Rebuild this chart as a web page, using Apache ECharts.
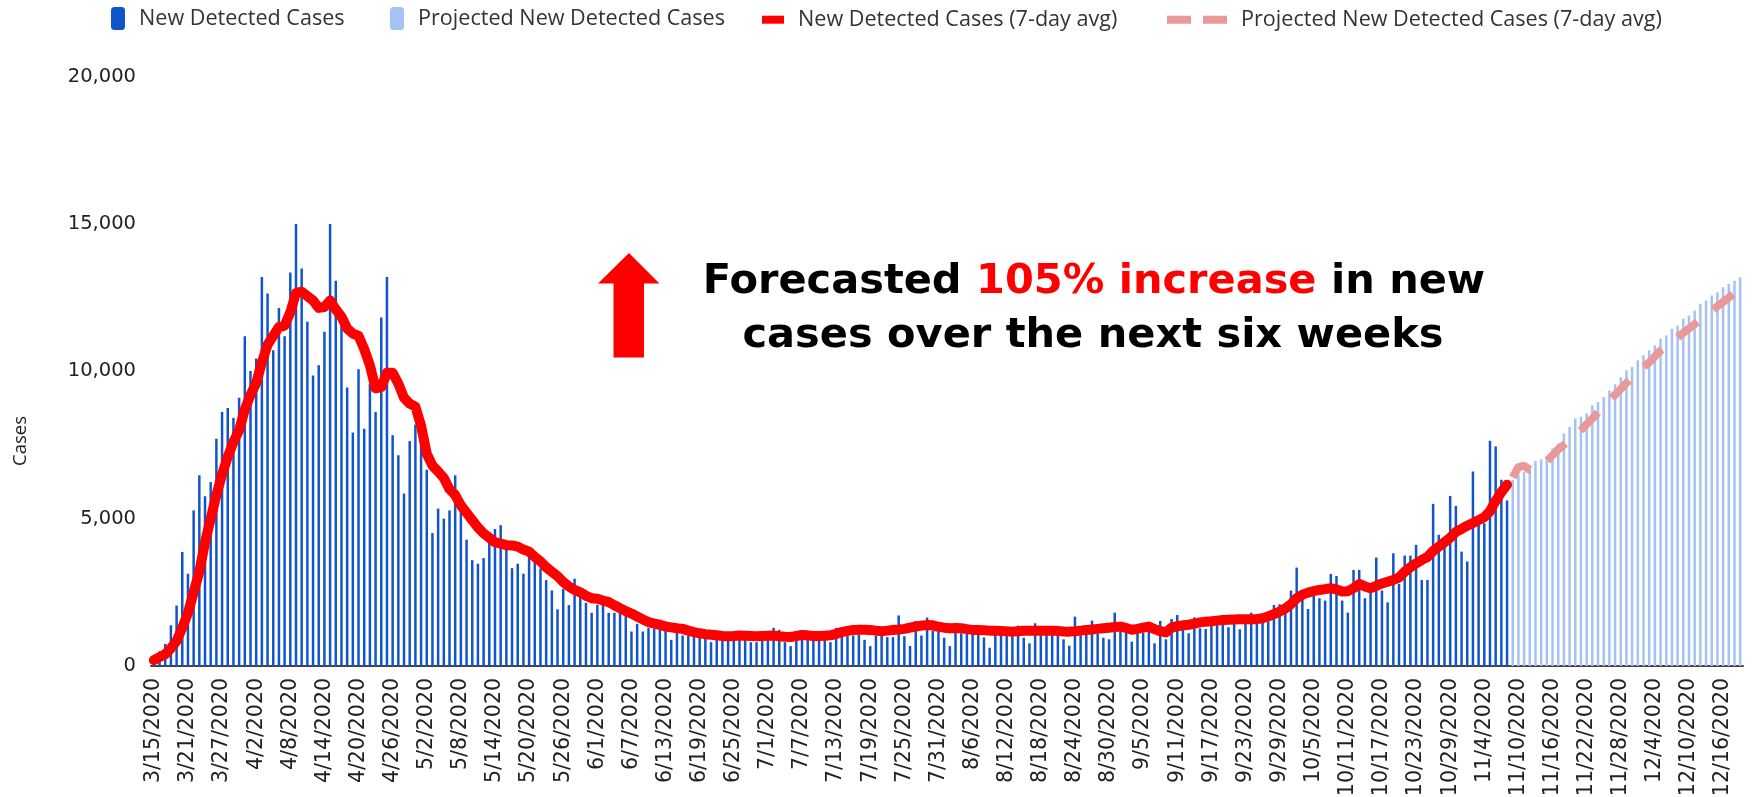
<!DOCTYPE html>
<html>
<head>
<meta charset="utf-8">
<script src="https://cdn.jsdelivr.net/npm/echarts@6/dist/echarts.min.js"></script>
<style>
  html, body { margin: 0; padding: 0; background: #fff; }
  #chart { width: 1752px; height: 797px; }
</style>
</head>
<body>
<div id="chart"></div>
<script>
// Daily new detected cases, 3/15/2020 .. 11/8/2020
const detectedCases = [
    200, 500, 750, 1380, 2050, 3870, 3130, 5280, 6470, 5760,
    6240, 7710, 8620, 8750, 8420, 9100, 11190, 10010, 10430, 13200,
    12640, 10710, 12150, 11190, 13350, 15000, 13490, 11680, 9860, 10200,
    11340, 15000, 13070, 11680, 9450, 7920, 10070, 8050, 9580, 8620,
    11820, 13200, 7830, 7150, 5850, 7630, 8190, 7660, 6660, 4510,
    5340, 5000, 5280, 6470, 5480, 4285, 3590, 3470, 3660, 4285,
    4645, 4780, 4120, 3320, 3470, 3130, 3720, 3600, 3310, 2915,
    2564, 1925, 2620, 2065, 2960, 2394, 2145, 1805, 2077, 2168,
    1805, 1805, 1885, 1715, 1171, 1432, 1171, 1296, 1262, 1262,
    1183, 888, 1149, 1036, 1036, 1002, 979, 956, 809, 922,
    888, 922, 979, 900, 922, 809, 809, 888, 922, 1296,
    1228, 809, 673, 922, 922, 922, 866, 900, 888, 809,
    1296, 1296, 1262, 1036, 1070, 888, 673, 1036, 1296, 979,
    979, 1715, 1010, 680, 1525, 1036, 1645, 1200, 1175, 960,
    675, 1450, 1110, 1110, 1140, 1090, 970, 620, 1050, 1050,
    1050, 1280, 1370, 960, 770, 1450, 1110, 1165, 1140, 1050,
    905, 690, 1675, 1050, 1110, 1540, 1090, 960, 905, 1810,
    1280, 1200, 825, 1165, 1130, 1165, 770, 1530, 905, 1595,
    1730, 1280, 1110, 1650, 1280, 1255, 1650, 1650, 1560, 1315,
    1585, 1245, 1540, 1810, 1585, 1560, 1505, 2070, 2095, 2015,
    2560, 3340, 2240, 1935, 2640, 2300, 2220, 3125, 3055, 2220,
    1810, 3260, 3260, 2300, 2580, 3680, 2560, 2160, 3825, 2785,
    3745, 3745, 4110, 2920, 2920, 5500, 4450, 4370, 5770, 5430,
    3880, 3545, 6600, 4790, 4845, 7640, 7450, 6320, 5620
];

// 7-day average of the detected cases, same days
const detectedAvg = [
    200, 300, 400, 600, 850, 1300, 1800, 2500, 3200, 4200,
    5000, 5800, 6500, 7100, 7600, 8000, 8700, 9200, 9600, 10300,
    10900, 11200, 11500, 11550, 12000, 12650, 12700, 12550, 12400, 12150,
    12180, 12400, 12100, 11850, 11450, 11280, 11200, 10750, 10200, 9420,
    9460, 9950, 9950, 9580, 9100, 8900, 8800, 8150, 7200, 6800,
    6600, 6380, 6000, 5800, 5450, 5200, 4950, 4700, 4500, 4350,
    4200, 4150, 4100, 4090, 4050, 3950, 3880, 3700, 3550, 3350,
    3200, 3050, 2850, 2700, 2580, 2500, 2380, 2300, 2280, 2220,
    2170, 2060, 1960, 1860, 1780, 1680, 1580, 1490, 1440, 1400,
    1340, 1310, 1280, 1260, 1200, 1150, 1110, 1080, 1060, 1040,
    1020, 1010, 1020, 1035, 1030, 1020, 1010, 1020, 1030, 1035,
    1010, 990, 980, 1020, 1050, 1040, 1015, 1020, 1030, 1040,
    1090, 1150, 1190, 1225, 1230, 1230, 1225, 1200, 1180, 1200,
    1225, 1240, 1260, 1300, 1340, 1370, 1390, 1380, 1330, 1300,
    1280, 1290, 1280, 1250, 1225, 1220, 1210, 1200, 1200, 1190,
    1175, 1166, 1180, 1195, 1200, 1200, 1200, 1200, 1200, 1185,
    1170, 1166, 1180, 1200, 1220, 1240, 1260, 1280, 1300, 1320,
    1336, 1290, 1230, 1260, 1300, 1336, 1250, 1180, 1140, 1300,
    1350, 1380, 1400, 1440, 1480, 1505, 1520, 1540, 1560, 1570,
    1580, 1585, 1585, 1585, 1590, 1620, 1680, 1760, 1850, 1950,
    2100, 2300, 2420, 2490, 2540, 2580, 2610, 2637, 2600, 2530,
    2540, 2640, 2784, 2700, 2637, 2720, 2800, 2860, 2920, 3000,
    3200, 3350, 3480, 3600, 3700, 3900, 4050, 4200, 4350, 4550,
    4650, 4760, 4850, 4950, 5050, 5250, 5600, 5900, 6150
];

// Projection, 11/9/2020 .. 12/19/2020
const projectedCases = [
    6310, 6480, 6590, 6820, 6960, 7010, 7100, 7380, 7550, 7890,
    8110, 8400, 8450, 8570, 8850, 8960, 9130, 9350, 9560, 9800,
    10030, 10140, 10370, 10540, 10710, 10880, 11100, 11210, 11440, 11550,
    11780, 11890, 12060, 12290, 12400, 12570, 12680, 12850, 12960, 13070,
    13190
];

// Projected 7-day average, 11/9/2020 .. 12/18/2020
const projectedAvg = [
    6400, 6750, 6800, 6650, 6700, 6850, 6950, 7150, 7350, 7500,
    7650, 7800, 8000, 8200, 8400, 8600, 8800, 9000, 9200, 9400,
    9600, 9800, 10000, 10150, 10300, 10500, 10700, 10850, 11000, 11150,
    11300, 11450, 11600, 11750, 11900, 12050, 12200, 12350, 12500, 12650
];

const firstDay = [2020, 3, 15];   // year, month, day of the first bar
const yMax = 20000;
const yStep = 5000;
const labelEvery = 6;             // one date label every 6 days

const seriesNames = [
    'New Detected Cases',
    'Projected New Detected Cases',
    'New Detected Cases (7-day avg)',
    'Projected New Detected Cases (7-day avg)'
];

// Build the day labels and pad each series onto the full day range
const dayCount = detectedCases.length + projectedCases.length;
const categories = [];
const start = Date.UTC(firstDay[0], firstDay[1] - 1, firstDay[2]);
for (let i = 0; i < dayCount; i++) {
    const d = new Date(start + i * 86400000);
    categories.push((d.getUTCMonth() + 1) + '/' + d.getUTCDate() + '/' + d.getUTCFullYear());
}
const blank = n => new Array(n).fill(null);
const actualBars = detectedCases.concat(blank(projectedCases.length));
const projBars = blank(detectedCases.length).concat(projectedCases);
const actualLine = detectedAvg.concat(blank(dayCount - detectedAvg.length));
const projLine = blank(detectedCases.length).concat(projectedAvg);

const legendText = {
    fontFamily: 'Open Sans',
    fontSize: 21.6,
    color: '#333',
    padding: [0, 0, 0, 9]
};

// rich text styles for the annotation
const bigFont = { fontFamily: 'DejaVu Sans', fontWeight: 'bold', fontSize: 41.5 };

const chart = echarts.init(document.getElementById('chart'));

chart.setOption({
    animation: false,
    textStyle: { fontFamily: 'DejaVu Sans' },
    legend: [
        {
            data: [seriesNames[0]], left: 106, top: 2,
            icon: 'roundRect', itemWidth: 14, itemHeight: 23,
            textStyle: legendText
        },
        {
            data: [seriesNames[1]], left: 385, top: 2,
            icon: 'roundRect', itemWidth: 14, itemHeight: 23,
            textStyle: legendText
        },
        {
            data: [seriesNames[2]], left: 757, top: 3.7,
            icon: 'rect', itemWidth: 22, itemHeight: 8,
            textStyle: legendText
        },
        {
            data: [seriesNames[3]], left: 1162, top: 3.7,
            icon: 'path://M0,0H24V8H0Z M36,0H60V8H36Z', itemWidth: 60, itemHeight: 8,
            textStyle: legendText
        }
    ],
    grid: {
        left: 151,
        right: 9,
        top: 76.5,
        bottom: 131,
        outerBoundsMode: 'none'
    },
    xAxis: {
        type: 'category',
        data: categories,
        boundaryGap: true,
        axisTick: { show: false },
        axisLine: { lineStyle: { color: '#444', width: 2 } },
        axisLabel: {
            rotate: 90,
            interval: labelEvery - 1,
            margin: 12,
            fontFamily: 'DejaVu Sans',
            fontSize: 20.5,
            color: '#222'
        }
    },
    yAxis: {
        type: 'value',
        min: 0,
        max: yMax,
        interval: yStep,
        axisLine: { show: false },
        axisTick: { show: false },
        splitLine: { show: false },
        axisLabel: {
            margin: 15,
            fontFamily: 'DejaVu Sans',
            fontSize: 19.5,
            color: '#222',
            formatter: v => v.toLocaleString('en-US')
        }
    },
    graphic: [
        {
            type: 'text',
            x: 21, y: 441,
            rotation: Math.PI / 2,
            style: {
                text: 'Cases',
                fontFamily: 'Open Sans',
                fontSize: 18.5,
                fill: '#222',
                align: 'center',
                verticalAlign: 'middle'
            }
        },
        {
            // red up arrow
            type: 'polygon',
            shape: {
                points: [
                    [629, 253], [659.5, 283.5], [644, 283.5], [644, 357.5],
                    [613.5, 357.5], [613.5, 283.5], [598, 283.5]
                ]
            },
            style: { fill: '#ff0000' }
        },
        {
            type: 'text',
            x: 1094, y: 282,
            style: {
                text: '{k|Forecasted }{r|105% increase}{k| in new}',
                align: 'center',
                verticalAlign: 'middle',
                rich: {
                    k: Object.assign({ fill: '#000' }, bigFont),
                    r: Object.assign({ fill: '#ff0000' }, bigFont)
                }
            }
        },
        {
            type: 'text',
            x: 1093, y: 336,
            style: Object.assign({
                text: 'cases over the next six weeks',
                align: 'center',
                verticalAlign: 'middle',
                fill: '#000'
            }, bigFont)
        }
    ],
    series: [
        {
            name: seriesNames[0],
            type: 'bar',
            data: actualBars,
            barWidth: 2.5,
            barGap: '-100%',
            itemStyle: { color: '#1155cc' }
        },
        {
            name: seriesNames[1],
            type: 'bar',
            data: projBars,
            barWidth: 2.5,
            barGap: '-100%',
            itemStyle: { color: '#a4c2f4' }
        },
        {
            name: seriesNames[2],
            type: 'line',
            data: actualLine,
            symbol: 'none',
            color: '#ff0000',
            lineStyle: { color: '#ff0000', width: 10, cap: 'round', join: 'round' }
        },
        {
            name: seriesNames[3],
            type: 'line',
            data: projLine,
            symbol: 'none',
            color: '#ea9999',
            lineStyle: { color: '#ea9999', width: 8, type: [25, 20] }
        }
    ]
});
</script>
</body>
</html>
